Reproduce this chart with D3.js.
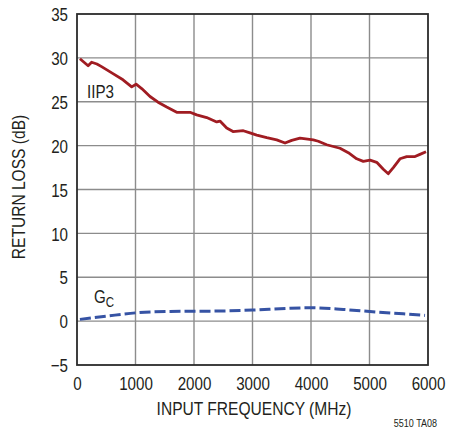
<!DOCTYPE html>
<html><head><meta charset="utf-8">
<script src="https://cdn.jsdelivr.net/npm/d3@7"></script>
<style>
body{margin:0;background:#fff;}
text{font-family:"Liberation Sans",Arial,sans-serif;fill:#231f20;}
</style></head>
<body><svg id="c" width="449" height="432"></svg>
<script>
const xTicks = [0,1000,2000,3000,4000,5000,6000];
const yTicks = [-5,0,5,10,15,20,25,30,35];
const iip3Freq = [50,190,250,340,420,615,786,935,1010,1106,1248,1385,1533,1704,1932,2046,2217,2388,2444,2559,2667,2843,2957,3072,3243,3414,3556,3670,3812,4039,4125,4268,4496,4638,4781,4894,5009,5123,5236,5321,5407,5521,5636,5778,5863,5966];
const iip3Val = [29.9,29.1,29.5,29.3,29.0,28.2,27.5,26.7,27.0,26.5,25.6,24.95,24.4,23.8,23.8,23.5,23.2,22.7,22.8,22.0,21.6,21.7,21.45,21.2,20.9,20.65,20.3,20.6,20.85,20.65,20.5,20.1,19.7,19.2,18.5,18.2,18.35,18.1,17.3,16.8,17.5,18.5,18.75,18.75,19.0,19.3];
const gcFreq = [50,508,1020,1590,2325,3009,3585,3983,4552,5123,5578,5949];
const gcVal = [0.2,0.57,0.95,1.1,1.14,1.26,1.45,1.52,1.33,1.03,0.83,0.65];

const svg = d3.select("#c");
const L=77,R=428,T=14,B=365;
const SX=0.82;
const x = d3.scaleLinear().domain([0,6000]).range([L,R]);
const y = d3.scaleLinear().domain([-5,35]).range([B,T]);

// grid
svg.append("g").selectAll("line").data(xTicks.slice(1,-1)).join("line")
  .attr("x1",d=>x(d)).attr("x2",d=>x(d)).attr("y1",T).attr("y2",B)
  .attr("stroke","#8c8c8c").attr("stroke-width",1.4);
svg.append("g").selectAll("line").data(yTicks.slice(1,-1)).join("line")
  .attr("y1",d=>y(d)).attr("y2",d=>y(d)).attr("x1",L).attr("x2",R)
  .attr("stroke","#8c8c8c").attr("stroke-width",1.4);
// frame
svg.append("rect").attr("x",L).attr("y",T).attr("width",R-L).attr("height",B-T)
  .attr("fill","none").attr("stroke","#2b2b2b").attr("stroke-width",1.8);

// tick labels
const xAxis = d3.axisBottom(x).tickValues(xTicks).tickSize(0).tickPadding(0).tickFormat(d3.format("d"));
const gx = svg.append("g").attr("transform",`translate(0,${B})`).call(xAxis);
gx.select(".domain").remove();
gx.selectAll("text").attr("dy",null).attr("y",25.5).attr("transform",`scale(${SX},1)`).style("font-size","18.5px").attr("fill","#231f20");
const yAxis = d3.axisLeft(y).tickValues(yTicks).tickSize(0).tickPadding(0).tickFormat(d=>d<0?"\u2212"+Math.abs(d):d);
const gy = svg.append("g").attr("transform",`translate(68,0)`).call(yAxis);
gy.select(".domain").remove();
gy.selectAll("text").attr("dy","0.36em").attr("x",0).attr("transform",`scale(${SX},1)`).style("font-size","18.5px").attr("fill","#231f20");

// series
const line = d3.line().x(d=>x(d[0])).y(d=>y(d[1]));
svg.append("path").datum(d3.zip(iip3Freq,iip3Val))
  .attr("d",line).attr("fill","none").attr("stroke","#a01c22").attr("stroke-width",2.8).attr("stroke-linejoin","round");
svg.append("path").datum(d3.zip(gcFreq,gcVal))
  .attr("d",line.curve(d3.curveMonotoneX)).attr("fill","none").attr("stroke","#3653a4").attr("stroke-width",3)
  .attr("stroke-dasharray","11,4");

// labels
function label(tx,ty,size,anchor,rot){
  return svg.append("text").attr("transform",`translate(${tx},${ty})${rot?" rotate(-90)":""} scale(${SX},1)`)
    .attr("text-anchor",anchor).style("font-size",size+"px");
}
label(87,97.5,18.5,"start").text("IIP3");
const gc = label(94,303,18.5,"start");
gc.append("tspan").text("G");
gc.append("tspan").attr("dy",4).style("font-size","14px").text("C");

label(254,415,19,"middle").text("INPUT FREQUENCY (MHz)");
label(25,187,19,"middle",true).text("RETURN LOSS (dB)");
label(437,427,11,"end").text("5510 TA08");
</script></body></html>
